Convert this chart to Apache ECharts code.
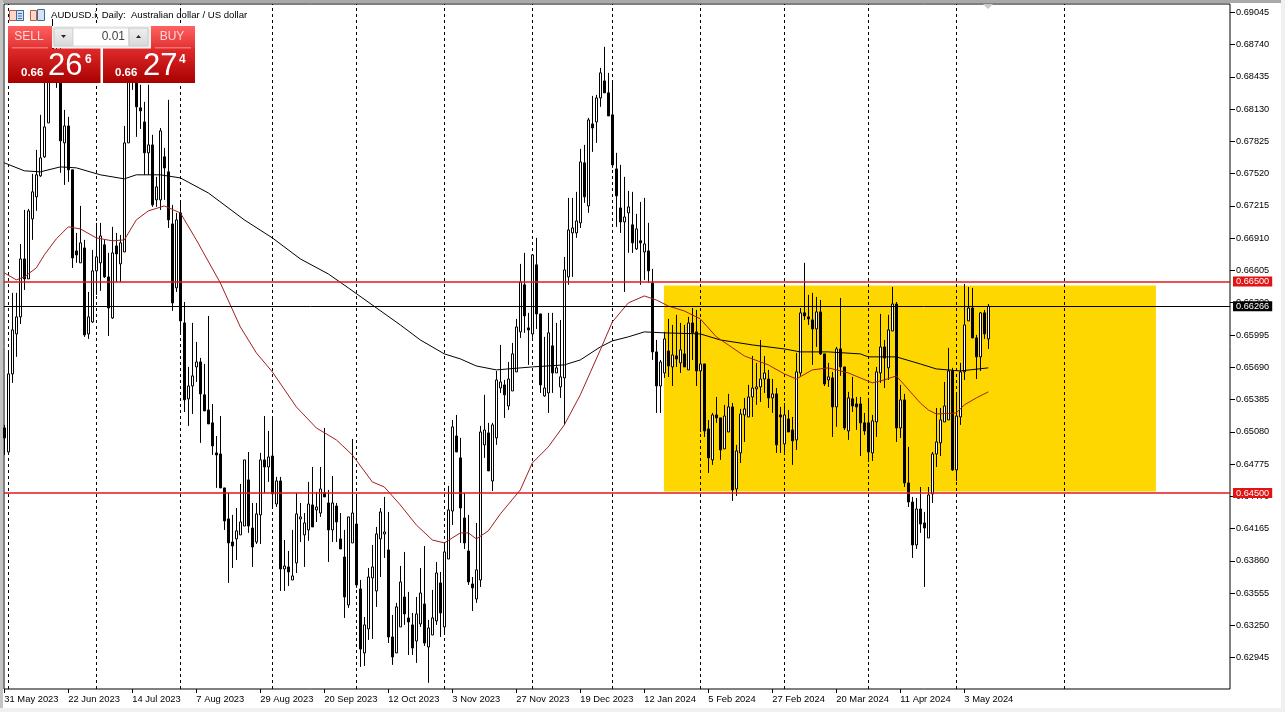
<!DOCTYPE html>
<html><head><meta charset="utf-8">
<style>html,body{margin:0;padding:0;background:#fff}#c{width:1285px;height:712px}</style>
<script src="https://cdn.jsdelivr.net/npm/echarts@6/dist/echarts.min.js"></script>
</head><body><div id="c"></div>
<script>
// Prices in units of 0.00001
const opens=[65116,64889,65627,66005,66166,66714,66525,67092,67301,67499,
67679,68000,68785,68690,68596,67811,67971,67556,66790,66677,
66818,66005,66118,66601,66677,66847,66544,66156,66837,66667,
66780,67811,68407,68596,68142,68009,67717,67792,67272,67272,
67679,67537,67045,66440,67149,66109,65391,65513,65693,65740,
65429,65286,65164,64880,64870,64549,64256,64038,64067,64105,
64189,64625,64170,64038,64294,64814,64747,64851,64397,64615,
63783,63802,63679,63840,64256,64105,64152,64388,64341,64312,
64502,64407,64152,64378,64067,63896,63443,64029,64208,63594,
62989,63216,63698,63575,64067,64114,63963,63140,62989,63235,
63518,63320,63254,63102,63263,63452,63045,63159,63292,63651,
63235,63877,64331,65040,64833,64265,63953,63641,63499,63679,
64956,65069,64615,65022,65494,65523,65324,65466,65646,66024,
66469,66062,66005,66658,66194,65419,65447,65892,65636,65504,
65589,66544,66960,66960,67055,67622,67215,67990,68009,68236,
68397,68284,68076,67565,67196,67064,67149,67036,66809,66885,
66780,66790,66487,65835,65513,65636,65844,65693,65797,65731,
65816,65665,66109,66024,65655,65721,65107,64814,65239,65211,
64918,65078,65315,64539,64880,65239,65220,65409,65485,65504,
65579,65579,65400,65438,65239,64965,65201,65097,65003,65636,
66204,66166,66137,66052,66213,65816,65570,65589,65315,65863,
65693,65088,65391,65343,65343,65164,65164,64880,65173,65636,
65882,65684,66033,66288,65116,65381,64596,64416,64010,64350,
64218,64076,64492,64870,64975,65173,65192,65655,64719,65220,
65646,66128,66250,65967,65788,66204,65958];
const closes=[65022,65627,66043,66166,66714,66525,67168,67348,67509,67669,
67962,68454,68501,68501,67830,67971,67556,66723,66752,66866,
65996,66166,66601,66733,66931,66544,66250,66771,66761,66866,
67811,68454,68501,68152,68114,67717,67792,67225,67395,67925,
67574,67083,66298,67083,66128,65381,65513,65608,65740,65438,
65277,65154,64946,64861,64549,64237,64029,64000,64143,64227,
64814,64189,63991,64303,64814,64747,64842,64492,64615,63783,
63811,63755,63717,64303,64275,64218,64397,64180,64369,64539,
64464,64152,64407,64227,63972,63518,64275,64312,63632,63026,
63254,63707,63802,64114,64322,64133,63140,62951,63424,63660,
63358,63282,63036,63358,63556,63083,63225,63320,63745,63367,
63944,64341,65126,64889,64359,64029,63660,63604,63774,65078,
65097,64710,65145,65570,65551,65429,65579,65816,66071,66497,
66175,66043,66752,66194,65523,65494,66015,65636,65684,65599,
66610,66988,67007,67073,67631,67301,68028,67952,68236,68473,
68284,68066,67603,67310,67064,67111,67206,66866,66998,66866,
66856,66601,65835,65513,65740,65958,65702,65806,65768,65854,
65693,66109,66015,65655,65721,65088,64833,65239,65211,64908,
65229,65315,64530,64899,65248,65296,65409,65494,65504,65579,
65636,65400,65438,64956,65220,65239,65078,64994,65646,66204,
66175,66147,66052,66213,65816,65532,65599,65315,65863,65693,
65116,65400,65324,65315,65164,65088,64889,65183,65646,65882,
65778,66043,66288,65116,65381,64596,64416,64010,64350,64208,
64170,64483,64870,64984,65192,65324,65655,64719,65229,65646,
66090,66250,65967,65788,66204,66005,66266];
const lows=[64861,64889,65542,65788,66099,66421,66525,66894,67168,67490,
67669,68000,68454,68331,67528,67414,67442,66629,66677,66677,
65977,65958,66109,66374,66412,66535,65986,66147,66497,66497,
66780,67811,68312,67868,67943,67509,67509,67206,67206,67177,
67272,67007,66223,66402,66015,65267,65135,65248,65551,64975,
65277,65154,64861,64549,64549,64152,63651,63792,63868,64105,
64189,64124,63802,64019,64019,64502,64606,64378,64369,63575,
63575,63622,63679,63745,64038,63802,64048,64180,64227,64275,
64464,63849,64038,64038,63972,63320,63415,64029,63604,62857,
62866,63112,63121,63424,63707,63887,63083,62876,62989,63235,
63254,62970,62970,62895,63235,63055,62706,63159,63254,63140,
63178,63877,64199,64889,64029,63972,63632,63386,63462,63613,
64833,64710,64520,64956,65447,65211,65286,65466,65646,65967,
66015,65712,65967,66052,65447,65410,65258,65447,65636,65400,
65145,66469,66544,66913,67007,67244,67149,67726,67811,68152,
68284,68066,67575,67017,66960,66402,66771,66771,66799,66469,
66516,66487,65759,65258,65258,65589,65598,65513,65693,65636,
65693,65665,65759,65513,65078,65031,64691,64767,65164,64814,
64918,65078,64426,64473,64785,64984,65220,65220,65334,65362,
65447,65305,65258,64880,64880,64880,65078,64767,64908,65608,
66137,66090,65712,65882,65806,65513,65504,65031,65126,65608,
65097,65003,65267,65097,64851,65050,64795,64804,65031,65542,
65494,65570,66033,64984,65022,64558,64369,63887,63972,64124,
63613,64076,64407,64747,64851,65173,65192,64710,64615,65145,
65570,66128,65967,65579,65655,65958,65863];
const highs=[65145,65835,66393,66393,66856,67177,67187,67518,67745,68076,
68407,68596,68983,68785,68738,68123,68057,67556,66960,67215,
66894,66402,66799,67055,67055,66894,66771,67017,66960,66941,
67971,68596,68690,68690,68360,68199,68360,67887,67490,67952,
67764,68218,67225,67149,67253,66307,65693,66109,65929,65778,
65721,66175,65343,65040,65229,64549,64502,64294,64359,64587,
64814,64889,64407,64407,64880,65229,65088,65229,64653,64653,
64057,63953,64152,64502,64407,64312,64606,64747,64511,64747,
65116,64530,64662,64407,64312,64152,64275,65012,64464,63679,
63329,63792,64010,64180,64359,64464,64322,63348,63462,63811,
63944,63566,63367,63518,63792,64000,63301,63585,63849,63755,
64029,64568,65192,65239,65022,64502,64294,63707,64218,65135,
65429,65164,65164,65655,65901,65570,65740,65920,66147,66667,
66771,66204,66752,66913,66194,65977,66204,66204,66109,66137,
66733,67291,67291,67348,67754,67792,68047,68255,68265,68520,
68719,68473,68388,67717,67603,67490,67357,67348,67140,67253,
67291,67055,66620,65948,65759,66024,66147,66090,66185,66109,
66090,66166,66250,66232,66137,65721,65192,65258,65409,65211,
65334,65438,65352,64956,65296,65400,65523,65797,65731,65948,
65797,65665,65579,65494,65315,65352,65286,65220,65826,66250,
66677,66374,66393,66355,66326,65816,65731,65646,65882,66345,
65693,65457,65599,65409,65409,65258,65391,65239,65693,66194,
65948,66185,66449,66307,65523,65438,64937,64464,64454,64558,
64322,64558,64889,65305,65305,65551,65873,65684,65428,65731,
66478,66449,66440,65996,66213,66232,66288];

// Moving averages: [bar index, price]
const ma200=[[0,67622],[5,67547],[9,67537],[14,67584],[18,67575],[24,67509],[30,67471],[33,67509],[39,67509],[44,67480],
[51,67338],[60,67083],[67,66913],[74,66714],[81,66572],[86,66440],[99,66090],[104,65948],[110,65816],[114,65769],
[118,65702],[123,65665],[132,65693],[140,65712],[144,65759],[149,65882],[152,65939],[156,65977],[160,66024],[165,66015],
[174,66005],[179,65948],[187,65901],[195,65863],[199,65835],[206,65835],[214,65816],[216,65788],[223,65788],[229,65721],
[233,65674],[239,65655],[246,65684]];
const ma20=[[0,66582],[3,66516],[5,66544],[8,66629],[10,66752],[13,66904],[16,67017],[19,66998],[23,66913],[27,66885],
[30,66894],[33,67083],[36,67168],[40,67215],[44,67149],[48,66894],[54,66487],[59,66071],[63,65826],[67,65646],
[73,65315],[78,65116],[83,65003],[87,64861],[92,64606],[95,64558],[99,64388],[103,64199],[107,64057],[110,64029],
[114,64124],[116,64124],[118,64067],[121,64143],[124,64303],[129,64530],[132,64785],[136,64937],[140,65145],[144,65429],
[149,65854],[152,66118],[156,66298],[160,66364],[163,66326],[166,66269],[170,66222],[174,66147],[178,65977],[181,65901],
[185,65797],[191,65712],[195,65627],[198,65579],[202,65665],[206,65684],[211,65636],[214,65589],[217,65542],[220,65570],
[223,65608],[225,65523],[229,65352],[231,65286],[233,65248],[238,65258],[240,65334],[243,65400],[246,65457]];

const dateLabels=["31 May 2023","22 Jun 2023","14 Jul 2023","7 Aug 2023","29 Aug 2023","20 Sep 2023","12 Oct 2023","3 Nov 2023",
"27 Nov 2023","19 Dec 2023","12 Jan 2024","5 Feb 2024","27 Feb 2024","20 Mar 2024","11 Apr 2024","3 May 2024"];
const dateTickBars=[0,16,32,48,64,80,96,112,128,144,160,176,192,208,224,240];
const monthStartBars=[1,23,44,67,88,110,132,152,174,195,216,238,265];
const priceTicks=[0.69045,0.6874,0.68435,0.6813,0.67825,0.6752,0.67215,0.6691,0.66605,0.663,0.65995,0.6569,0.65385,0.6508,0.64775,0.6447,0.64165,0.6386,0.63555,0.6325,0.62945];
const supportResistance=[0.665,0.645];
const lastPrice=0.66266;
const zoneBars=[164.9,287.9];
const zonePrices=[0.64515,0.66463];

const SCALE=1e5;
const px=v=>v/SCALE;
const candles=opens.map((o,i)=>[i,px(o),px(closes[i]),px(lows[i]),px(highs[i])]);
const pts=a=>a.map(p=>[p[0],px(p[1])]);
const AXF='"Liberation Sans",Tahoma,sans-serif';

const chart=echarts.init(document.getElementById('c'),null,{renderer:'canvas'});
const redGrad=(a,b)=>new echarts.graphic.LinearGradient(0,0,0,1,[{offset:0,color:a},{offset:1,color:b}]);
const txt=(x,y,t,size,fill,weight,align)=>({type:'text',x:x,y:y,z:101,style:{text:t,font:(weight||'normal')+' '+size+'px '+AXF,fill:fill,align:align||'left',verticalAlign:'middle'}});
const box=(x,y,w,h,fill,stroke)=>({type:'rect',z:100,shape:{x:x,y:y,width:w,height:h},style:{fill:fill,stroke:stroke||null,lineWidth:1}});
const levelLabel=(bg)=>({position:'end',distance:3,fontSize:9.2,fontFamily:AXF,color:'#fff',backgroundColor:bg,padding:[1,3,0,3],formatter:p=>Number(p.value).toFixed(5)});

chart.setOption({
 animation:false,
 backgroundColor:'#fff',
 grid:{left:4,top:4,width:1226,height:685,show:true,borderColor:'#000',borderWidth:1,backgroundColor:'#fff'},
 xAxis:{type:'value',min:-0.08,max:306.42,splitLine:{show:false},axisLine:{show:false,onZero:false},
  axisTick:{show:true,length:4,customValues:dateTickBars,lineStyle:{color:'#000'}},
  axisLabel:{customValues:dateTickBars,align:'left',margin:6,fontSize:9.4,fontFamily:AXF,color:'#000',
   formatter:v=>dateLabels[dateTickBars.indexOf(v)]||''}},
 yAxis:{type:'value',position:'right',min:0.62648,max:0.69124,scale:true,splitLine:{show:false},axisLine:{show:false,onZero:false},
  axisTick:{show:true,length:5,customValues:priceTicks,lineStyle:{color:'#000'}},
  axisLabel:{customValues:priceTicks,margin:6,fontSize:9.2,fontFamily:AXF,color:'#000',formatter:v=>v.toFixed(5)}},
 series:[
  {type:'line',name:'backdrop',data:[],silent:true,z:1,
   markArea:{silent:true,z:1,itemStyle:{color:'#FFD700',opacity:1},data:[[{xAxis:zoneBars[0],yAxis:zonePrices[0]},{xAxis:zoneBars[1],yAxis:zonePrices[1]}]]},
   markLine:{silent:true,z:1.5,symbol:'none',label:{show:false},lineStyle:{color:'#000',type:[3,3],width:1},data:monthStartBars.map(b=>({xAxis:b}))}},
  {type:'candlestick',name:'AUDUSD',z:2,barWidth:3,data:candles,
   itemStyle:{color:'#fff',color0:'#000',borderColor:'#000',borderColor0:'#000',borderWidth:1}},
  {type:'line',name:'MA200',z:3,data:pts(ma200),symbol:'none',smooth:false,lineStyle:{color:'#000',width:1}},
  {type:'line',name:'MA20',z:3,data:pts(ma20),symbol:'none',smooth:false,lineStyle:{color:'#a02020',width:1}},
  {type:'line',name:'levels',data:[],silent:true,z:4,
   markLine:{silent:true,z:4,precision:5,symbol:'none',lineStyle:{type:'solid',width:1.6,color:'#e01818'},label:levelLabel('#e01414'),
    data:supportResistance.map(v=>({yAxis:v}))}},
  {type:'line',name:'last',data:[],silent:true,z:4,
   markLine:{silent:true,z:4,precision:5,symbol:'none',lineStyle:{type:'solid',width:1,color:'#000'},label:levelLabel('#000'),
    data:[{yAxis:lastPrice}]}}
 ],
 graphic:[
  box(0,0,1285,3,'#a9a9a9'),
  box(0,0,3,712,'#c4c4c4'),
  box(1281,0,4,712,'#f0f0f0'),
  box(0,708,1285,4,'#f0f0f0'),
  {type:'polygon',z:100,shape:{points:[[983,4],[993,4],[988,9]]},style:{fill:'#c8c8c8'}},
  // toolbar icons
  box(9.5,10.5,14,10,'#fbd8cc','#c05a40'),
  box(16.5,10.5,7,10,'#d4e4f6','#3c6a9c'),
  box(18,13,4,1,'#3c6a9c'),box(18,15.5,4,1,'#3c6a9c'),box(18,18,4,1,'#3c6a9c'),
  box(30.5,10.5,6,10,'#fbd8cc','#c05a40'),
  box(37.5,9.5,7,11,'#d4e4f6','#3c6a9c'),
  txt(51,15,'AUDUSD.i, Daily:  Australian dollar / US dollar',9.6,'#000'),
  // one-click trade panel
  box(52,26,99,22,'#f0f0f0'),
  box(54,28,19,18,redGrad('#f0f0f0','#d8d8d8'),'#c8c8c8'),
  box(73,28,56,18,'#fff','#d8d8d8'),
  box(129,28,19,18,redGrad('#f0f0f0','#d8d8d8'),'#c8c8c8'),
  {type:'polygon',z:101,shape:{points:[[61,35],[66,35],[63.5,38]]},style:{fill:'#222'}},
  {type:'polygon',z:101,shape:{points:[[136,38],[141,38],[138.5,35]]},style:{fill:'#222'}},
  txt(125,36.5,'0.01',12,'#444','normal','right'),
  box(8,26,44,23,redGrad('#ff6262','#e23030')),
  box(151,26,44,23,redGrad('#ff6262','#e23030')),
  box(12,47.5,36,1,'#ffb0b0'),
  box(155,47.5,36,1,'#ffb0b0'),
  txt(29,37,'SELL',12,'#ffd8d8','normal','center'),
  txt(172,37,'BUY',12,'#ffd8d8','normal','center'),
  box(8,48.5,92.5,34.5,redGrad('#e02a2a','#a80000')),
  box(103,48.5,92,34.5,redGrad('#e02a2a','#a80000')),
  txt(21,72.5,'0.66',11.5,'#fff','bold'),
  txt(48,66.5,'26',31,'#fff'),
  txt(85,60,'6',12,'#fff','bold'),
  txt(115,72.5,'0.66',11.5,'#fff','bold'),
  txt(143,66.5,'27',31,'#fff'),
  txt(179,60,'4',12,'#fff','bold')
 ]
});
</script></body></html>
